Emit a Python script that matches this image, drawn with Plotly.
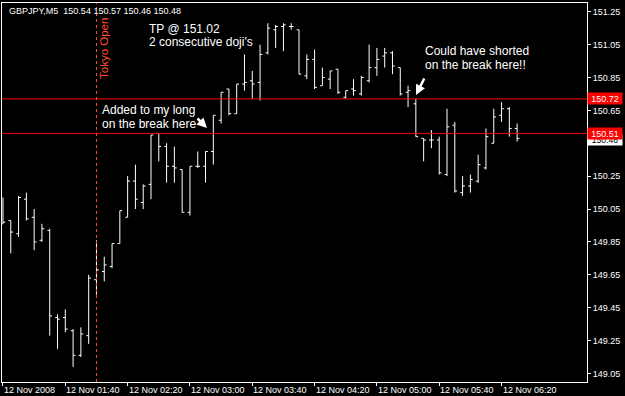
import plotly.graph_objects as go
import pandas as pd

# ---------------- data ----------------
symbol = "GBPJPY,M5"
times = pd.date_range("2008-11-12 01:00", periods=67, freq="5min")

opens = [149.96, 149.98, 149.90, 150.11, 150.00, 149.86, 149.92, 149.39, 149.39, 149.31,
         149.16, 149.28, 149.62, 149.67, 149.70, 149.84, 150.00, 150.22, 150.09, 150.20,
         150.51, 150.43, 150.31, 150.29, 150.03, 150.31, 150.31, 150.40, 150.59, 150.78,
         150.63, 150.81, 150.83, 150.82, 151.00, 151.14, 151.16, 151.16, 151.14, 150.86,
         150.96, 150.80, 150.84, 150.90, 150.73, 150.78, 150.75, 150.83, 150.91, 150.98,
         151.00, 150.91, 150.76, 150.69, 150.48, 150.47, 150.47, 150.26, 150.56, 150.15,
         150.19, 150.22, 150.30, 150.45, 150.62, 150.66, 150.54]
highs = [150.12, 149.98, 150.13, 150.15, 150.05, 149.96, 149.93, 149.41, 149.44, 149.32,
         149.33, 149.65, 149.86, 149.76, 149.84, 150.04, 150.25, 150.32, 150.20, 150.50,
         150.51, 150.45, 150.43, 150.29, 150.31, 150.40, 150.40, 150.62, 150.76, 150.78,
         150.81, 150.99, 150.89, 151.05, 151.18, 151.17, 151.18, 151.18, 151.14, 150.99,
         151.02, 150.91, 150.89, 150.90, 150.77, 150.84, 150.86, 151.05, 151.03, 151.03,
         151.01, 150.91, 150.80, 150.72, 150.48, 150.53, 150.49, 150.66, 150.58, 150.25,
         150.26, 150.38, 150.54, 150.66, 150.70, 150.67, 150.57]
lows = [149.96, 149.78, 149.88, 149.98, 149.80, 149.85, 149.28, 149.20, 149.30, 149.09,
        149.15, 149.23, 149.53, 149.61, 149.69, 149.84, 150.00, 150.05, 150.05, 150.11,
        150.34, 150.21, 150.21, 150.03, 150.01, 150.30, 150.21, 150.32, 150.57, 150.62,
        150.63, 150.77, 150.72, 150.71, 150.99, 151.03, 151.01, 151.14, 150.87, 150.84,
        150.78, 150.80, 150.78, 150.75, 150.72, 150.74, 150.74, 150.82, 150.86, 150.91,
        150.87, 150.74, 150.67, 150.49, 150.34, 150.42, 150.26, 150.25, 150.15, 150.13,
        150.15, 150.21, 150.29, 150.45, 150.58, 150.49, 150.46]
closes = [149.97, 149.91, 150.12, 149.99, 149.85, 149.93, 149.40, 149.38, 149.32, 149.16,
          149.29, 149.63, 149.68, 149.71, 149.84, 150.04, 150.22, 150.11, 150.19, 150.50,
          150.43, 150.31, 150.30, 150.03, 150.31, 150.31, 150.40, 150.62, 150.76, 150.63,
          150.81, 150.82, 150.81, 150.99, 151.15, 151.16, 151.17, 151.16, 150.87, 150.96,
          150.79, 150.85, 150.89, 150.76, 150.77, 150.77, 150.85, 150.91, 150.96, 151.00,
          150.92, 150.75, 150.77, 150.49, 150.47, 150.47, 150.27, 150.55, 150.16, 150.19,
          150.23, 150.32, 150.49, 150.61, 150.66, 150.54, 150.48]

level_lines = [150.72, 150.51]
y_ticks = [149.05, 149.25, 149.45, 149.65, 149.85, 150.05, 150.25, 150.45, 150.65, 150.85, 151.05, 151.25]
x_tick_times = ["2008-11-12 01:00", "2008-11-12 01:40", "2008-11-12 02:20", "2008-11-12 03:00",
                "2008-11-12 03:40", "2008-11-12 04:20", "2008-11-12 05:00", "2008-11-12 05:40",
                "2008-11-12 06:20"]
x_tick_labels = ["12 Nov 2008", "12 Nov 01:40", "12 Nov 02:20", "12 Nov 03:00", "12 Nov 03:40",
                 "12 Nov 04:20", "12 Nov 05:00", "12 Nov 05:40", "12 Nov 06:20"]
tokyo_open_time = "2008-11-12 02:00"

# ---------------- layout helpers (pixel -> paper) ----------------
W, H = 625, 396
ML, MR, MT, MB = 2, 38, 3, 14
PW, PH = W - ML - MR, H - MT - MB


def px(x):
    return (x - ML) / PW


def py(y):
    return (H - MB - y) / PH


AXFONT = "Liberation Sans, Arial, sans-serif"
WHITE = "#ffffff"
TOKYO = "#ff4f2a"

fig = go.Figure(go.Ohlc(
    x=times, open=opens, high=highs, low=lows, close=closes,
    increasing=dict(line=dict(color=WHITE, width=1)),
    decreasing=dict(line=dict(color=WHITE, width=1)),
    tickwidth=0.3, hoverinfo="skip", showlegend=False,
))

# level lines
for lv in level_lines:
    fig.add_shape(type="line", xref="paper", x0=0, x1=1, yref="y", y0=lv, y1=lv,
                  line=dict(color="#ff0000", width=1))

# Tokyo open dashed line
fig.add_shape(type="line", xref="x", x0=tokyo_open_time, x1=tokyo_open_time,
              yref="paper", y0=0, y1=1, line=dict(color=TOKYO, width=1, dash="3px,3px"))

ann = []
# header text
last = len(closes) - 1
ann.append(dict(xref="paper", yref="paper", x=px(7), y=py(10.5), xanchor="left", yanchor="middle",
                text=f"{symbol}\u00a0\u00a0{opens[last]:.2f} {highs[last]:.2f} {lows[last]:.2f} {closes[last]:.2f}",
                showarrow=False, font=dict(family=AXFONT, size=9, color=WHITE)))

# x tick labels (left-aligned at tick like MT4)
for t, lab in zip(x_tick_times, x_tick_labels):
    ann.append(dict(xref="x", yref="paper", x=t, y=py(389.5), xanchor="left", yanchor="middle",
                    xshift=-1, text=lab, showarrow=False,
                    font=dict(family=AXFONT, size=9, color=WHITE)))

# price label boxes on the right axis (current price box sits partly under the 150.51 box)
ann.append(dict(xref="paper", yref="y", x=1, y=closes[last], xanchor="left", yanchor="middle",
                yshift=-2, text=f"{closes[last]:.2f}", showarrow=False, bgcolor=WHITE,
                width=34, height=10, borderpad=0,
                font=dict(family=AXFONT, size=8.5, color="#000000")))
for lv in level_lines:
    ann.append(dict(xref="paper", yref="y", x=1, y=lv, xanchor="left", yanchor="middle",
                    text=f"{lv:.2f}", showarrow=False, bgcolor="#ff0000", width=34, height=11,
                    borderpad=0, font=dict(family=AXFONT, size=9, color=WHITE)))

# chart comments
TXT = dict(family=AXFONT, size=12, color=WHITE)
for text, x, y in [("TP @ 151.02", 147, 29), ("2 consecutive doji's", 147, 42.5),
                   ("Added to my long", 100, 110), ("on the break here", 100, 123.5),
                   ("Could have shorted", 423, 51.5), ("on the break here!!", 423, 65)]:
    ann.append(dict(xref="paper", yref="paper", x=px(x), y=py(y), xanchor="left", yanchor="middle",
                    text=text, showarrow=False, font=TXT))

ann.append(dict(xref="paper", yref="paper", x=px(104), y=py(49), xanchor="center", yanchor="middle",
                text="Tokyo Open", textangle=-90, showarrow=False,
                font=dict(family=AXFONT, size=11.5, color=TOKYO)))

# arrows
ann.append(dict(xref="paper", yref="paper", x=px(207), y=py(128), ax=-11, ay=-11, text="",
                showarrow=True, arrowhead=2, arrowsize=0.8, arrowwidth=2.5, arrowcolor=WHITE,
                standoff=0, startstandoff=0))
ann.append(dict(xref="paper", yref="paper", x=px(416), y=py(95), ax=9, ay=-18, text="",
                showarrow=True, arrowhead=2, arrowsize=0.8, arrowwidth=2.5, arrowcolor=WHITE,
                standoff=0, startstandoff=0))

x_start = times[0] - pd.Timedelta(seconds=38)
x_end = times[0] + pd.Timedelta(seconds=int(74.97 * 300))

# the 150.45 label is hidden under the current-price box in the original
y_ticktext = ["" if abs(v - 150.45) < 1e-9 else f"{v:.2f}" for v in y_ticks]

fig.update_layout(
    width=W, height=H, margin=dict(l=ML, r=MR, t=MT, b=MB, pad=0),
    paper_bgcolor="#000000", plot_bgcolor="#000000",
    annotations=ann, showlegend=False,
    xaxis=dict(type="date", range=[x_start, x_end], rangeslider=dict(visible=False),
               showgrid=False, zeroline=False, showline=True, mirror=True,
               linecolor=WHITE, linewidth=1, ticks="outside", ticklen=3, tickcolor=WHITE,
               tickvals=x_tick_times, showticklabels=False),
    yaxis=dict(side="right", range=[148.998, 151.303], showgrid=False, zeroline=False,
               showline=True, mirror=True, linecolor=WHITE, linewidth=1,
               ticks="outside", ticklen=3, tickcolor=WHITE, tickvals=y_ticks,
               ticktext=y_ticktext,
               tickfont=dict(family=AXFONT, size=9, color=WHITE)),
)

fig.write_html("out.html")
